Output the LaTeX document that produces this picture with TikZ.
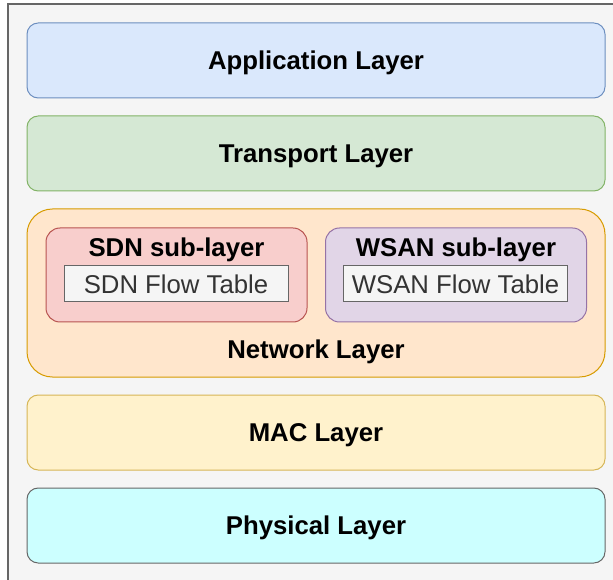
\documentclass[tikz,border=0pt]{standalone}
\usepackage{fontspec}
\setmainfont{Liberation Sans}
\usepackage{xcolor}
\usepackage{tikz}

\definecolor{bgfill}{HTML}{F5F5F5}
\definecolor{bgline}{HTML}{666666}
\definecolor{appfill}{HTML}{DAE8FC}
\definecolor{appline}{HTML}{6C8EBF}
\definecolor{trafill}{HTML}{D5E8D4}
\definecolor{traline}{HTML}{82B366}
\definecolor{netfill}{HTML}{FFE6CC}
\definecolor{netline}{HTML}{D79B00}
\definecolor{sdnfill}{HTML}{F8CECC}
\definecolor{sdnline}{HTML}{B85450}
\definecolor{wsanfill}{HTML}{E1D5E7}
\definecolor{wsanline}{HTML}{9673A6}
\definecolor{macfill}{HTML}{FFF2CC}
\definecolor{macline}{HTML}{D6B656}
\definecolor{phyfill}{HTML}{CCFFFF}
\definecolor{tabtext}{HTML}{333333}

\begin{document}
\begin{tikzpicture}[x=0.75pt,y=-0.75pt,font=\fontsize{19.3}{22}\selectfont,
  every node/.style={text height=13.8pt,text depth=0pt},
  layer/.style={draw,line width=0.75pt,rounded corners=8.4pt,inner sep=0pt,
    minimum width=433.5pt,minimum height=56.25pt,font=\fontsize{19.3}{22}\selectfont\bfseries},
  sublayer/.style={draw,line width=0.75pt,rounded corners=10.5pt,inner sep=0pt,
    minimum width=195.75pt,minimum height=70.5pt},
  flowtab/.style={draw=bgline,fill=bgfill,line width=0.75pt,inner sep=0pt,
    minimum width=168pt,minimum height=27pt,text=tabtext},
  lbl/.style={inner sep=0pt,font=\fontsize{19.3}{22}\selectfont\bfseries}]
  \useasboundingbox (0,0) rectangle (613,580);
  \fill[bgfill] (8,4) rectangle (613,580);
  \draw[bgline,line width=1.2pt] (8,580) -- (8,4) -- (613,4);
  % upper layers
  \node[layer,draw=appline,fill=appfill] (app) at (316,60.5) {Application Layer};
  \node[layer,draw=traline,fill=trafill] (tra) at (316,153.5) {Transport Layer};
  % network layer with its two sub-layers
  \node[layer,draw=netline,fill=netfill,rounded corners=19pt,minimum height=126pt] (net) at (316,293) {};
  \node[lbl] (netlbl) at (316,349.5) {Network Layer};
  \node[sublayer,draw=sdnline,fill=sdnfill] (sdn) at (176.5,275) {};
  \node[lbl] (sdnlbl) at (176.5,247.5) {SDN sub-layer};
  \node[flowtab] (sdntab) at (176,284) {SDN Flow Table};
  \node[sublayer,draw=wsanline,fill=wsanfill] (wsan) at (456,275) {};
  \node[lbl] (wsanlbl) at (456,247.5) {WSAN sub-layer};
  \node[flowtab] (wsantab) at (455.5,284) {WSAN Flow Table};
  % lower layers
  \node[layer,draw=macline,fill=macfill] (mac) at (316,432.5) {MAC Layer};
  \node[layer,draw=bgline,fill=phyfill] (phy) at (316,525.5) {Physical Layer};
\end{tikzpicture}
\end{document}
